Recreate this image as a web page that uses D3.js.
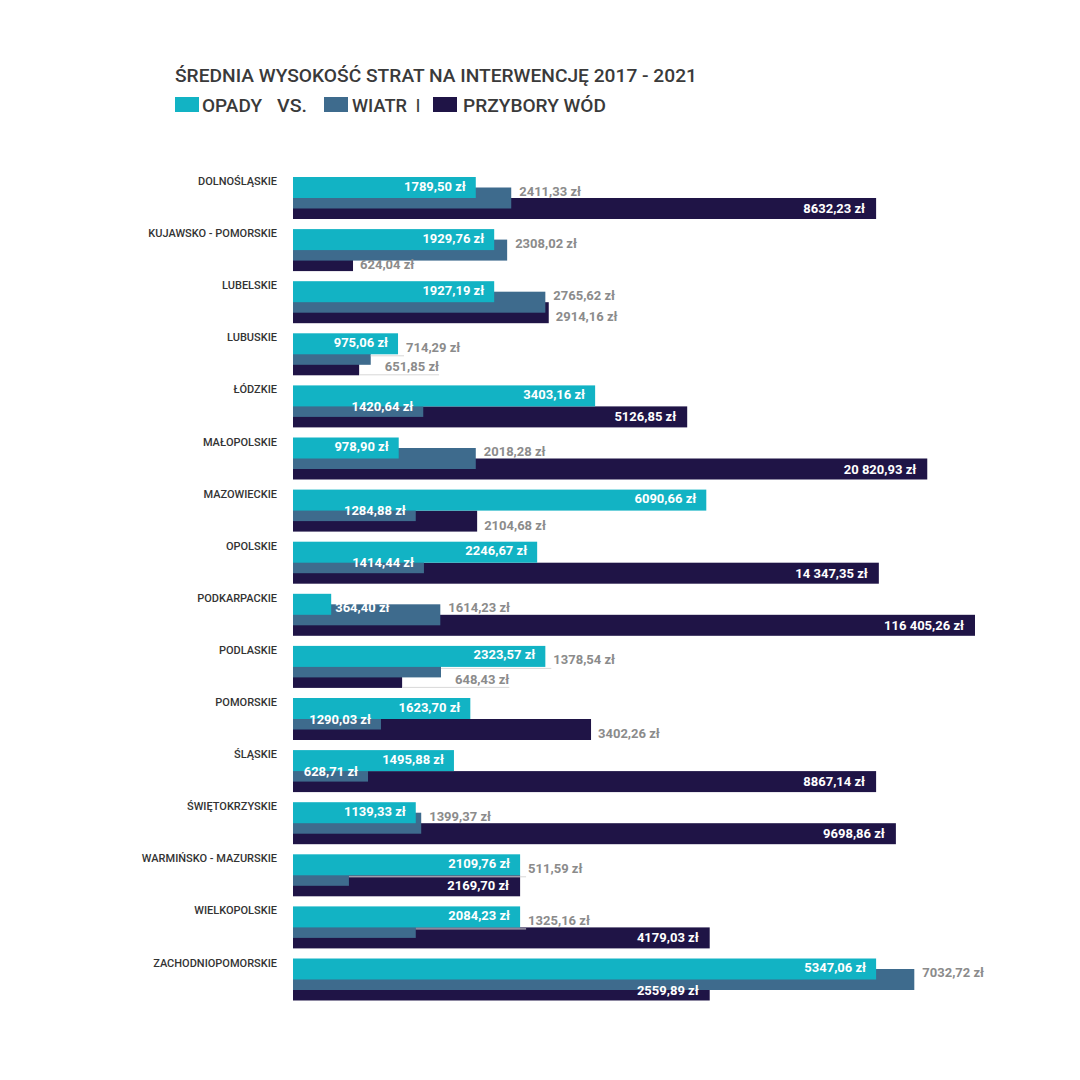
<!DOCTYPE html>
<meta charset="utf-8">
<style>
body { margin: 0; background: #fff; }
svg text { font-family: Roboto, "Liberation Sans", sans-serif; }
</style>
<svg width="1080" height="1080"></svg>
<script src="https://cdn.jsdelivr.net/npm/d3@7"></script>
<script>

// dane: średnia wysokość strat na interwencję (zł)
var categories = ["DOLNOŚLĄSKIE", "KUJAWSKO - POMORSKIE", "LUBELSKIE", "LUBUSKIE", "ŁÓDZKIE",
  "MAŁOPOLSKIE", "MAZOWIECKIE", "OPOLSKIE", "PODKARPACKIE", "PODLASKIE", "POMORSKIE",
  "ŚLĄSKIE", "ŚWIĘTOKRZYSKIE", "WARMIŃSKO - MAZURSKIE", "WIELKOPOLSKIE", "ZACHODNIOPOMORSKIE"];
var opady    = [1789.50, 1929.76, 1927.19, 975.06, 3403.16, 978.90, 6090.66, 2246.67,
  364.40, 2323.57, 1623.70, 1495.88, 1139.33, 2109.76, 2084.23, 5347.06];
var wiatr    = [2411.33, 2308.02, 2765.62, 714.29, 1420.64, 2018.28, 1284.88, 1414.44,
  1614.23, 1378.54, 1290.03, 628.71, 1399.37, 511.59, 1325.16, 7032.72];
var przybory = [8632.23, 624.04, 2914.16, 651.85, 5126.85, 20820.93, 2104.68, 14347.35,
  116405.26, 648.43, 3402.26, 8867.14, 9698.86, 2169.70, 4179.03, 2559.89];

// długości słupków (% najdłuższego) - oryginał nie jest w skali
var opadyLen    = [26.8, 29.5, 29.5, 15.4, 44.3, 15.5, 60.6, 35.8, 5.6, 37.0, 26.0, 23.6, 18.0, 33.3, 33.3, 85.5];
var wiatrLen    = [32.0, 31.4, 37.0, 11.4, 19.1, 26.8, 18.0, 19.2, 21.6, 21.7, 12.9, 11.0, 18.8, 8.2, 18.0, 91.1];
var przyboryLen = [85.5, 8.8, 37.5, 9.7, 57.8, 93.0, 27.0, 85.9, 100, 16.0, 43.7, 85.5, 88.4, 33.3, 61.1, 61.1];

// które etykiety siedzą w środku słupka (1) a które obok (0)
var wiatrInside    = [0, 0, 0, 0, 1, 0, 1, 1, 0, 0, 1, 1, 0, 0, 0, 0];
var przyboryInside = [1, 0, 0, 0, 1, 1, 0, 1, 1, 0, 0, 1, 1, 1, 1, 1];

var legendWords = ["OPADY", "VS.", "WIATR", "I", "PRZYBORY WÓD"];

var svg = d3.select("svg");
var colors = { opady: "#12b3c4", wiatr: "#3e6b8d", przybory: "#1f1446" };

var x = d3.scaleLinear().domain([0, 100]).range([293, 975]);
var y = d3.scaleBand().domain(categories).range([177, 1000.5]).paddingInner(0.194);
var bh = y.bandwidth() / 2,
    off = y.bandwidth() / 4;

// format "8632,23 zł" / "20 820,93 zł"
function fmt(v) {
  var s = v.toFixed(2).split(".");
  var int = s[0];
  if (v >= 10000) int = int.replace(/\B(?=(\d{3})+(?!\d))/g, " ");
  return int + "," + s[1] + " zł";
}

// tytuł
svg.append("text")
  .attr("x", 175).attr("y", 82)
  .attr("font-size", 18).attr("font-weight", 500)
  .attr("fill", "#3a3a3a")
  .attr("textLength", 522).attr("lengthAdjust", "spacingAndGlyphs")
  .text("ŚREDNIA WYSOKOŚĆ STRAT NA INTERWENCJĘ 2017 - 2021");

// legenda
var lg = svg.append("g");
var legendItems = [
  { sw: colors.opady, sx: 175, text: legendWords[0], tx: 202, tw: 60 },
  { sw: null, text: legendWords[1], tx: 277, tw: 30 },
  { sw: colors.wiatr, sx: 324, text: legendWords[2], tx: 352, tw: 55 },
  { sw: null, text: legendWords[3], tx: 416, tw: 4 },
  { sw: colors.przybory, sx: 433, text: legendWords[4], tx: 463, tw: 143 }
];
legendItems.forEach(function(d) {
  if (d.sw) lg.append("rect").attr("x", d.sx).attr("y", 97).attr("width", 24).attr("height", 15).attr("fill", d.sw);
  lg.append("text")
    .attr("x", d.tx).attr("y", 112)
    .attr("font-size", 18).attr("font-weight", 500).attr("fill", "#3a3a3a")
    .attr("textLength", d.tw).attr("lengthAdjust", "spacingAndGlyphs")
    .text(d.text);
});

// nazwy województw
svg.append("g").selectAll("text")
  .data(categories)
  .enter().append("text")
    .attr("x", 277)
    .attr("y", function(d) { return y(d) + 8; })
    .attr("text-anchor", "end")
    .attr("font-size", 11).attr("font-weight", 500)
    .attr("fill", "#333")
    .text(function(d) { return d; });

// słupki: najpierw przybory, potem wiatr, na wierzchu opady
var series = [
  { key: "przybory", len: przyboryLen, dy: 2 * off },
  { key: "wiatr", len: wiatrLen, dy: off },
  { key: "opady", len: opadyLen, dy: 0 }
];
series.forEach(function(s) {
  svg.append("g").selectAll("rect")
    .data(categories)
    .enter().append("rect")
      .attr("x", x(0))
      .attr("y", function(d) { return y(d) + s.dy; })
      .attr("width", function(d, i) { return x(s.len[i]) - x(0); })
      .attr("height", bh)
      .attr("fill", colors[s.key]);
});

// etykiety wartości
var lab = svg.append("g").attr("font-size", 13).attr("font-weight", 700);
var grey = "#8b8b8b";

function label(tx, ty, anchor, fill, txt) {
  return lab.append("text")
    .attr("x", tx).attr("y", ty)
    .attr("text-anchor", anchor)
    .attr("fill", fill)
    .text(txt);
}
function leader(x1, x2, ly) {
  lab.append("line")
    .attr("x1", x1).attr("x2", x2)
    .attr("y1", ly).attr("y2", ly)
    .attr("stroke", "#d8d8d8").attr("stroke-width", 1);
}

categories.forEach(function(c, i) {
  var T = y(c);
  var tEnd = x(opadyLen[i]), wEnd = x(wiatrLen[i]), nEnd = x(przyboryLen[i]);

  // opady
  var t = label(tEnd - 10, T + 13.5, "end", "#fff", fmt(opady[i]));
  if (t.node().getComputedTextLength() + 16 > tEnd - x(0)) {
    t.attr("x", tEnd + 4).attr("y", T + 18).attr("text-anchor", "start");
  }

  // wiatr
  if (wiatrInside[i]) {
    label(wEnd - 10, T + 25.5, "end", "#fff", fmt(wiatr[i]));
  } else {
    var wx = Math.max(wEnd, tEnd) + 8;
    if (tEnd > wEnd) leader(wEnd, wx - 2, T + 22.5);
    label(wx, T + 18.5, "start", grey, fmt(wiatr[i]));
  }

  // przybory wód
  if (przyboryInside[i]) {
    label(nEnd - 11, T + 36, "end", "#fff", fmt(przybory[i]));
  } else if (wEnd > nEnd && wEnd - nEnd < 60) {
    // za krótki przy wietrze - etykieta odsunięta z podkreśleniem
    var nl = label(wEnd + 14, T + 38, "start", grey, fmt(przybory[i]));
    leader(nEnd, wEnd + 14 + nl.node().getComputedTextLength(), T + 41.5);
  } else {
    label(nEnd + 7, T + 40, "start", grey, fmt(przybory[i]));
  }
});

</script>
